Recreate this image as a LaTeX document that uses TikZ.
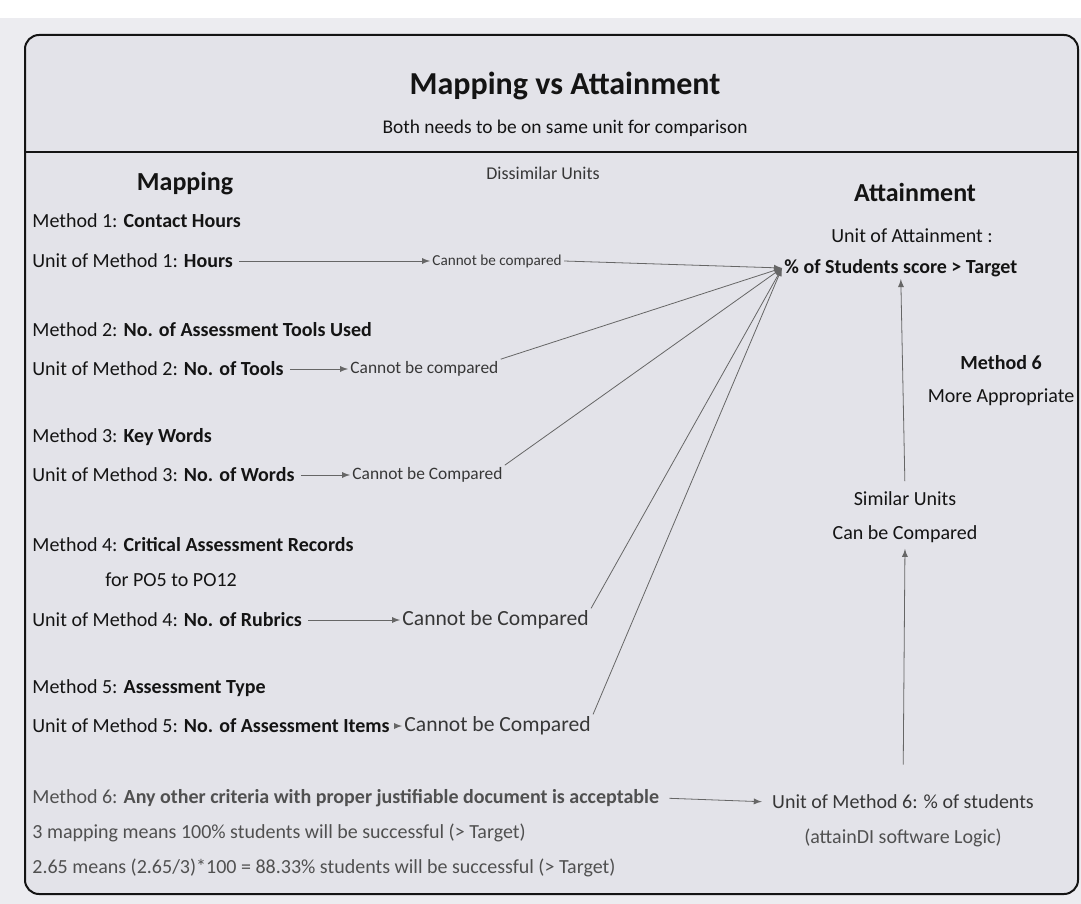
\documentclass[tikz,border=0pt]{standalone}
\usepackage{fontspec}
\setmainfont{Carlito}
\usepackage{xcolor}
\usepackage{tikz}
\usetikzlibrary{positioning}
\definecolor{paper}{HTML}{ECECF0}
\definecolor{panel}{HTML}{E3E3E9}
\definecolor{ink}{HTML}{141414}
\definecolor{faint}{HTML}{505050}

\begin{document}
\begin{tikzpicture}[
  x=0.5pt, y=-0.5pt,
  txt/.style={inner sep=1pt, text=ink, font=\fontsize{10}{12}\selectfont},
  lft/.style={txt, anchor=west},
  head/.style={txt, font=\bfseries\fontsize{13}{15}\selectfont},
  nocmp/.style={txt, anchor=west, text=ink!85},
  link/.style={>=latex, ->, thin, draw=ink!65}
]
\fill[white] (0,0) rectangle (1081,904);
\fill[paper] (0,18) rectangle (1081,904);
\useasboundingbox (0,0) rectangle (1081,904);
\draw[rounded corners=7pt, line width=1pt, draw=ink, fill=panel] (25,35) rectangle (1078,894);
\draw[line width=0.7pt, ink] (25,152) -- (1078,152);

% headings
\node[txt, font=\bfseries\fontsize{16}{19}\selectfont] (title) at (565,86) {Mapping vs Attainment};
\node[txt, font=\fontsize{9.7}{12}\selectfont] (sub) at (565,128) {Both needs to be on same unit for comparison};
\node[head] (map) at (185,184) {Mapping};
\node[txt, font=\fontsize{9}{11}\selectfont, text=ink!85] (diss) at (543,173) {Dissimilar Units};
\node[head] (att) at (915,192) {Attainment};

% mapping methods
\node[lft] (m1) at (30,221) {Method 1: \textbf{Contact Hours}};
\node[lft] (u1) at (30,261) {Unit of Method 1: \textbf{Hours}};
\node[lft] (m2) at (30,330) {Method 2: \textbf{No. of Assessment Tools Used}};
\node[lft] (u2) at (30,369) {Unit of Method 2: \textbf{No. of Tools}};
\node[lft] (m3) at (30,437) {Method 3: \textbf{Key Words}};
\node[lft] (u3) at (30,475) {Unit of Method 3: \textbf{No. of Words}};
\node[lft] (m4) at (30,545) {Method 4: \textbf{Critical Assessment Records}};
\node[lft] (m4b) at (103,580) {for PO5 to PO12};
\node[lft] (u4) at (30,620) {Unit of Method 4: \textbf{No. of Rubrics}};
\node[lft] (m5) at (30,688) {Method 5: \textbf{Assessment Type}};
\node[lft] (u5) at (30,726) {Unit of Method 5: \textbf{No. of Assessment Items}};

% dissimilar units
\node[nocmp, font=\fontsize{7.6}{9}\selectfont] (c1) at (430,261) {Cannot be compared};
\node[nocmp, font=\fontsize{8.7}{10}\selectfont] (c2) at (348,369) {Cannot be compared};
\node[nocmp, font=\fontsize{8.7}{10}\selectfont] (c3) at (350,475) {Cannot be Compared};
\node[nocmp, font=\fontsize{10.8}{13}\selectfont] (c4) at (400,620) {Cannot be Compared};
\node[nocmp, font=\fontsize{10.8}{13}\selectfont] (c5) at (402,726) {Cannot be Compared};

% attainment
\node[txt] (ua) at (912,236) {Unit of Attainment :};
\node[lft, font=\bfseries\fontsize{10}{12}\selectfont] (tgt) at (782,268) {\% of Students score > Target};
\node[txt, align=center, font=\fontsize{10}{16.5}\selectfont] (m6r) at (1001,381) {\textbf{Method 6}\\More Appropriate};
\node[txt, align=center, font=\fontsize{10}{17}\selectfont] (sim) at (905,517) {Similar Units\\Can be Compared};

% method 6
\node[lft, text=faint] (m6) at (30,798) {Method 6: \textbf{Any other criteria with proper justifiable document is acceptable}};
\node[lft, text=faint] (m6b) at (30,833) {3 mapping means 100\% students will be successful (> Target)};
\node[lft, text=faint] (m6c) at (30,868) {2.65 means (2.65/3)*100 = 88.33\% students will be successful (> Target)};
\node[txt, text=ink!85] (u6) at (903,802) {Unit of Method 6: \% of students};
\node[txt, text=faint] (u6b) at (903,838) {(attainDI software Logic)};

% connectors
\foreach \u/\c in {u1/c1,u2/c2,u3/c3,u4/c4,u5/c5}
  \draw[link, shorten <=2pt] (\u.east) -- (\c.west);
\draw[link] (c1.east) -- (tgt.west);
\foreach \c in {c2,c3,c4,c5}
  \draw[link] (\c.north east) -- (tgt.west);
\draw[link, shorten <=4pt, shorten >=4pt] (m6.east) -- (u6.west);
\draw[link, shorten <=14pt, shorten >=2pt] (u6.north) -- (sim.south);
\draw[link, shorten <=4pt] (sim.north) -- (tgt.south);
\end{tikzpicture}
\end{document}
